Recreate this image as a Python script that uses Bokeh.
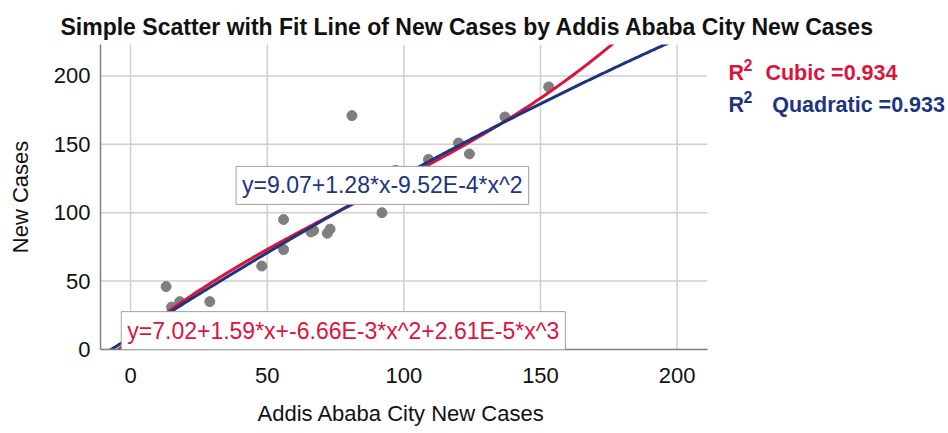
from bokeh.plotting import figure
from bokeh.models import Range1d, Label, FixedTicker, Title
from bokeh.embed import file_html
from bokeh.resources import INLINE
import numpy as np

# data
x_cases = [0, 13, 15, 18, 29, 48, 56, 56, 66, 67, 72, 73, 81, 92, 97, 109, 120, 124, 137, 153]
y_cases = [1, 46, 31, 35, 35, 61, 73, 95, 86, 87, 85, 88, 171, 100, 131, 139, 151, 143, 170, 192]

cubic_coef = [7.02, 1.59, -6.66e-3, 2.61e-5]
quad_coef = [9.07, 1.28, -9.52e-4]
r2_cubic = 0.934
r2_quad = 0.933

x_ticks = [0, 50, 100, 150, 200]
y_ticks = [0, 50, 100, 150, 200]
x_lo, x_hi = -11, 211
y_lo, y_hi = 0, 223

RED = "#dc143c"
BLUE = "#1c3580"
FONT = "Liberation Sans"

p = figure(width=945, height=430, output_backend="svg", toolbar_location=None,
           x_range=Range1d(x_lo, 298.2), y_range=Range1d(y_lo, y_hi),
           min_border_left=100, min_border_right=0, min_border_top=44, min_border_bottom=81)
p.outline_line_color = None
p.background_fill_color = "white"
p.grid.visible = False

t = Title(text="Simple Scatter with Fit Line of New Cases by Addis Ababa City New Cases",
          align="left", offset=-40, text_font=FONT, text_font_size="23px",
          text_font_style="bold", text_color="#111111")
p.add_layout(t, "above")

for ax in (p.xaxis, p.yaxis):
    ax.major_tick_in = 0
    ax.major_tick_out = 0
    ax.minor_tick_in = 0
    ax.minor_tick_out = 0
    ax.axis_line_color = "#808080"
    ax.axis_line_width = 1.5
    ax.major_label_text_font = FONT
    ax.major_label_text_font_size = "22px"
    ax.major_label_text_color = "#111111"
    ax.axis_label_text_font = FONT
    ax.axis_label_text_font_size = "22px"
    ax.axis_label_text_font_style = "normal"
    ax.axis_label_text_color = "#111111"

p.xaxis.bounds = (x_lo, x_hi)
p.xaxis.ticker = FixedTicker(ticks=x_ticks)
p.yaxis.ticker = FixedTicker(ticks=y_ticks)
p.yaxis.axis_label = "New Cases"
p.xaxis.major_label_standoff = 18
p.yaxis.major_label_standoff = 10
p.yaxis.axis_label_standoff = 18
# invisible spacer label to push the bottom title down a little
p.xaxis.axis_label = "\u00a0"
p.xaxis.axis_label_text_font_size = "4px"
p.xaxis.axis_label_standoff = 0

xt = Title(text="Addis Ababa City New Cases", align="left", offset=157, standoff=10,
           text_font=FONT, text_font_size="22px", text_font_style="normal",
           text_color="#111111")
p.add_layout(xt, "below")

# grid lines limited to the plotted data area
GRID = "#cfcfcf"
p.segment(x0=x_ticks, y0=[y_lo] * len(x_ticks), x1=x_ticks, y1=[y_hi] * len(x_ticks),
          line_color=GRID, line_width=1.5)
p.segment(x0=[x_lo] * len(y_ticks), y0=y_ticks, x1=[x_hi] * len(y_ticks), y1=y_ticks,
          line_color=GRID, line_width=1.5)

p.scatter(x_cases, y_cases, size=10, color="#7f7f7f", line_color="#7f7f7f")

xs = np.linspace(x_lo, x_hi, 400)
y_cub = sum(c * xs ** i for i, c in enumerate(cubic_coef))
y_quad = sum(c * xs ** i for i, c in enumerate(quad_coef))
p.line(xs, y_cub, line_color=RED, line_width=3)
p.line(xs, y_quad, line_color=BLUE, line_width=3)

# equation boxes
p.add_layout(Label(x=38.6, y=120, text="y=9.07+1.28*x-9.52E-4*x^2", text_font=FONT,
                   text_font_size="23px", text_color=BLUE, text_align="left",
                   text_baseline="middle", padding=6, background_fill_color="white",
                   border_line_color="#a0a0a0", border_line_width=1))
p.add_layout(Label(x=-3.4, y=13.8, text="y=7.02+1.59*x+-6.66E-3*x^2+2.61E-5*x^3", text_font=FONT,
                   text_font_size="23px", text_color=RED, text_align="left",
                   text_baseline="middle", padding=6, background_fill_color="white",
                   border_line_color="#a0a0a0", border_line_width=1))

# R^2 legend
for yb, col, name, val, xn in [(201.9, RED, "Cubic", r2_cubic, 232.3),
                                (178.5, BLUE, "Quadratic", r2_quad, 234.8)]:
    p.add_layout(Label(x=218.8, y=yb, text="R", text_font=FONT, text_font_size="21.5px",
                       text_font_style="bold", text_color=col, text_baseline="alphabetic"))
    p.add_layout(Label(x=224.3, y=yb + 5.9, text="2", text_font=FONT, text_font_size="16px",
                       text_font_style="bold", text_color=col, text_baseline="alphabetic"))
    p.add_layout(Label(x=xn, y=yb, text=f"{name} ={val:.3f}", text_font=FONT,
                       text_font_size="21.5px", text_font_style="bold", text_color=col,
                       text_baseline="alphabetic"))

open("out.html", "w").write(file_html(p, INLINE))
